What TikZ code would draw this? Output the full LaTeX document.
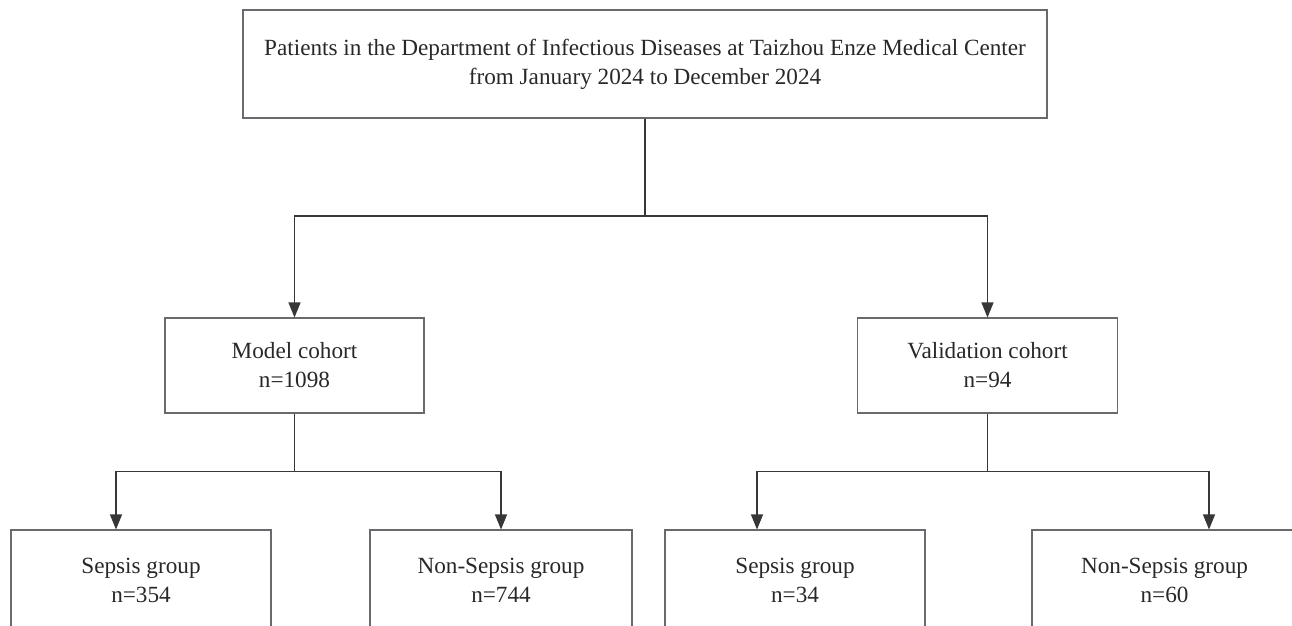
\documentclass[tikz,border=0pt]{standalone}
\usepackage{fontspec}
\setmainfont{Liberation Serif}
\usepackage{tikz}
\usetikzlibrary{calc, positioning, arrows.meta}
\definecolor{boxline}{RGB}{105, 105, 110}
\definecolor{arrowline}{RGB}{55, 55, 55}
\definecolor{txt}{RGB}{40, 40, 40}

\begin{document}
\begin{tikzpicture}[>={Triangle[length=0.3cm, width=0.24cm]},
  font=\fontsize{13.2}{16.5}\selectfont,
  box/.style={draw=boxline, line width=0.6pt, rectangle, align=center, text=txt,
    minimum width=5.2cm, minimum height=1.9cm, inner sep=0pt},
  link/.style={draw=arrowline, line width=0.6pt}]
  \useasboundingbox (0, 0) rectangle (25.84, -12.5);
  \clip (0, 0) rectangle (25.84, -12.5);
  % top
  \node[box, minimum width=16.08cm, minimum height=2.16cm] (source) at (12.9, -1.28)
    {Patients in the Department of Infectious Diseases at Taizhou Enze Medical Center\\
     from January 2024 to December 2024};
  % cohorts
  \node[box, minimum width=5.18cm] (model) at (5.89, -7.31) {Model cohort\\n=1098};
  \node[box] (valid) at (19.75, -7.31) {Validation cohort\\n=94};
  % groups
  \node[box, minimum height=2cm] (msep) at (2.82, -11.6) {Sepsis group\\n=354};
  \node[box, minimum height=2cm, minimum width=5.24cm] (mnon) at (10.02, -11.6) {Non-Sepsis group\\n=744};
  \node[box, minimum height=2cm] (vsep) at (15.9, -11.6) {Sepsis group\\n=34};
  \node[box, minimum height=2cm, minimum width=5.3cm] (vnon) at (23.29, -11.6) {Non-Sepsis group\\n=60};
  % connectors
  \coordinate (split) at (12.9, -4.32);
  \coordinate (msplit) at ($(model.south)+(0, -1.16)$);
  \coordinate (vsplit) at ($(valid.south)+(0, -1.16)$);
  \draw[link] (source.south) -- (split);
  \draw[link, ->] (split) -| (model.north);
  \draw[link, ->] (split) -| (valid.north);
  \draw[link] (model.south) -- (msplit);
  \draw[link, ->] (msplit) -| ($(msep.north)+(-0.5, 0)$);
  \draw[link, ->] (msplit) -| (mnon.north);
  \draw[link] (valid.south) -- (vsplit);
  \draw[link, ->] (vsplit) -| ($(vsep.north)+(-0.76, 0)$);
  \draw[link, ->] (vsplit) -| ($(vnon.north)+(0.89, 0)$);
\end{tikzpicture}
\end{document}
